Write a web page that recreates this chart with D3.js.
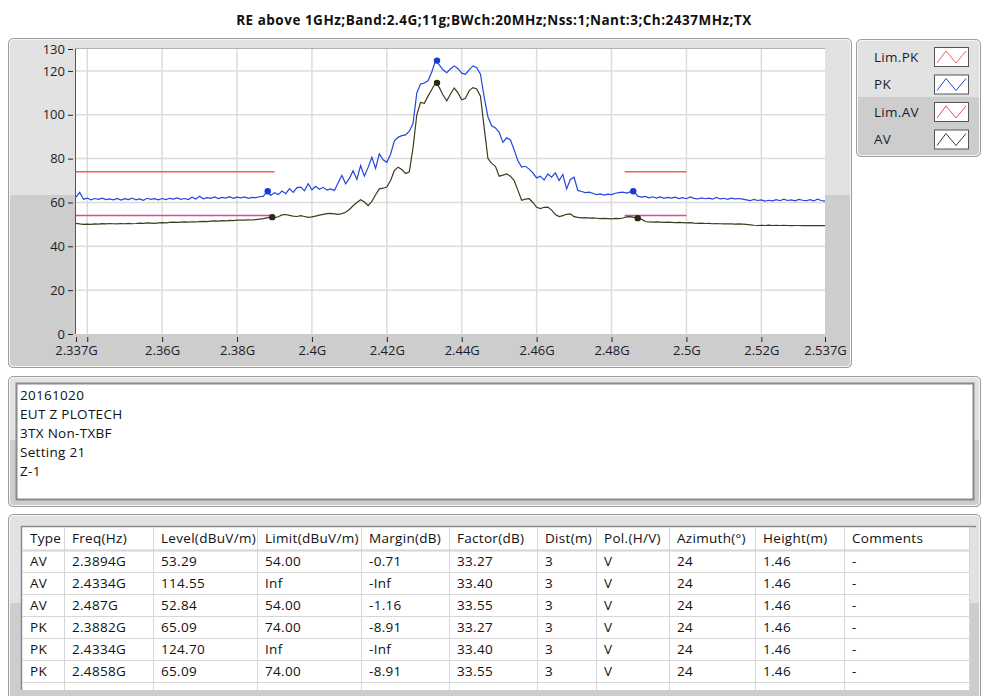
<!DOCTYPE html>
<html>
<head>
<meta charset="utf-8">
<script src="https://cdn.jsdelivr.net/npm/d3@7"></script>
<style>
body { margin: 0; background: #fff; }
svg { display: block; font-family: "Open Sans", sans-serif; }
</style>
</head>
<body>
<svg id="chart" width="981" height="696"></svg>
<script>
// ---- data ----
var title = "RE above 1GHz;Band:2.4G;11g;BWch:20MHz;Nss:1;Nant:3;Ch:2437MHz;TX";
var freqStart = 2.337, freqStep = 0.001;   // GHz, one value per step

var pk = [
  62.4, 64.6, 61.5, 62.0, 61.2, 61.8, 61.4, 62.0, 61.3, 61.6,
  61.2, 61.8, 61.1, 61.7, 61.3, 62.0, 61.2, 61.6, 61.0, 61.9,
  61.4, 61.7, 61.2, 61.8, 61.3, 61.9, 61.5, 62.1, 61.4, 61.8,
  61.3, 62.4, 61.6, 62.8, 61.7, 62.2, 61.9, 62.5, 61.8, 62.3,
  62.0, 62.6, 61.9, 62.4, 62.1, 62.5, 61.9, 62.3, 62.2, 62.6,
  62.8, 65.0, 63.2, 64.5, 63.6, 65.2, 64.0, 66.3, 64.6, 66.8,
  67.0, 65.3, 68.6, 65.8, 67.4, 66.0, 66.9, 65.6, 66.2, 65.5,
  69.0, 72.3, 68.5, 71.0, 74.5, 70.5, 76.8, 72.0, 76.0, 80.6,
  75.5, 82.2, 79.5, 78.3, 82.0, 88.0, 89.7, 90.5, 90.8, 92.5,
  96.0, 110.0, 114.0, 114.5, 115.5, 119.5, 124.7, 122.8, 120.5, 119.2,
  121.0, 122.3, 121.0, 119.0, 118.5, 120.5, 122.3, 121.5, 118.5, 108.0,
  99.0, 95.0, 94.0, 92.0, 87.4, 89.5, 88.5, 84.0, 79.0, 76.1,
  76.5, 75.2, 73.5, 71.2, 72.0, 70.2, 73.0, 71.5, 73.5, 70.0,
  72.8, 66.2, 70.5, 71.5, 65.5, 65.0, 64.5, 64.7, 64.2, 63.6,
  63.9, 63.4, 63.8, 63.6, 64.2, 64.5, 64.7, 64.3, 64.8, 65.1,
  62.9, 62.4, 62.8, 62.1, 62.6, 62.0, 62.5, 61.9, 62.3, 62.0,
  62.4, 61.8, 62.2, 61.7, 62.5, 61.9, 61.6, 62.1, 61.7, 62.0,
  61.5, 62.3, 61.6, 61.9, 61.4, 62.0, 61.6, 61.8, 61.5, 61.2,
  60.8, 61.4, 60.9, 61.2, 60.6, 61.0, 60.7, 61.3, 60.8, 61.5,
  60.9, 61.2, 60.7, 61.4, 61.0, 60.8, 61.3, 60.7, 61.5, 60.9,
  60.6
];

var av = [
  50.5, 50.2, 50.0, 50.1, 50.0, 50.2, 50.1, 50.3, 50.2, 50.4,
  50.3, 50.2, 50.4, 50.3, 50.5, 50.3, 50.4, 50.6, 50.5, 50.7,
  50.6, 50.5, 50.7, 50.8, 50.7, 50.9, 51.0, 50.9, 51.0, 51.1,
  51.0, 51.2, 51.1, 51.3, 51.4, 51.3, 51.5, 51.6, 51.5, 51.7,
  51.6, 51.8, 51.7, 51.9, 52.0, 51.9, 52.1, 52.0, 52.2, 52.4,
  52.6, 53.0, 53.3, 53.1, 53.5, 54.3, 54.5, 54.1, 53.8, 53.6,
  54.0, 53.6, 53.2, 53.4, 53.8, 54.2, 54.6, 54.9, 55.0, 54.8,
  54.6, 54.9, 55.5, 56.8, 58.5, 60.0, 61.2, 60.2, 58.6, 60.5,
  63.5, 66.2, 66.5, 67.0, 70.0, 74.5, 76.1, 75.0, 73.2, 74.0,
  85.0, 100.0, 105.6, 105.2, 108.5, 111.5, 114.5, 112.5, 109.0, 106.4,
  109.5, 112.2, 110.0, 106.8, 107.5, 111.0, 112.4, 111.8, 108.5, 94.0,
  80.0, 77.8, 76.5, 72.0, 72.5, 73.0, 72.0, 70.0, 65.5, 61.0,
  61.5, 61.7, 60.0, 57.8, 57.2, 57.8, 57.9, 56.5, 54.5, 53.6,
  54.0, 54.6, 54.8, 53.5, 53.2, 53.0, 53.1, 52.9, 53.0, 52.8,
  52.6, 52.7, 52.6, 52.5, 52.7, 52.6, 52.9, 53.4, 53.5, 53.2,
  52.8, 52.4, 51.3, 51.1, 51.0, 51.1, 51.0, 50.9, 51.0, 50.9,
  50.8, 50.9, 50.8, 50.7, 50.8, 50.6, 50.5, 50.6, 50.4, 50.5,
  50.3, 50.4, 50.3, 50.2, 50.3, 50.2, 50.1, 50.2, 50.1, 50.0,
  49.8, 49.6, 49.5, 49.6, 49.5, 49.7, 49.5, 49.6, 49.5, 49.6,
  49.5, 49.4, 49.5, 49.5, 49.4, 49.5, 49.4, 49.5, 49.4, 49.5,
  49.4
];

var limBands = [[2.337, 2.39], [2.4835, 2.5]];
var limPK = 74, limAV = 54;

var xTicks = [2.337, 2.34, 2.36, 2.38, 2.4, 2.42, 2.44, 2.46, 2.48, 2.5, 2.52, 2.537];
var xTickLabels = ["2.337G", "", "2.36G", "2.38G", "2.4G", "2.42G", "2.44G", "2.46G", "2.48G", "2.5G", "2.52G", "2.537G"];
var yTicks = [0, 20, 40, 60, 80, 100, 120, 130];

var legendNames = ["Lim.PK", "PK", "Lim.AV", "AV"];
var notes = ["20161020", "EUT Z PLOTECH", "3TX Non-TXBF", "Setting 21", "Z-1"];

var tableHead = ["Type", "Freq(Hz)", "Level(dBuV/m)", "Limit(dBuV/m)", "Margin(dB)", "Factor(dB)", "Dist(m)", "Pol.(H/V)", "Azimuth(\u00b0)", "Height(m)", "Comments"];
var tableRows = [
  ["AV", "2.3894G", "53.29", "54.00", "-0.71", "33.27", "3", "V", "24", "1.46", "-"],
  ["AV", "2.4334G", "114.55", "Inf", "-Inf", "33.40", "3", "V", "24", "1.46", "-"],
  ["AV", "2.487G", "52.84", "54.00", "-1.16", "33.55", "3", "V", "24", "1.46", "-"],
  ["PK", "2.3882G", "65.09", "74.00", "-8.91", "33.27", "3", "V", "24", "1.46", "-"],
  ["PK", "2.4334G", "124.70", "Inf", "-Inf", "33.40", "3", "V", "24", "1.46", "-"],
  ["PK", "2.4858G", "65.09", "74.00", "-8.91", "33.55", "3", "V", "24", "1.46", "-"]
];

// ---- styles ----
var colors = { "Lim.PK": "#fa5a5a", "PK": "#2346dc", "Lim.AV": "#d94a94", "AV": "#3d3d1e" };
var light = "#e2e2e2", dark = "#cdcdcd";

var svg = d3.select("#chart");

// two tone rounded panel
function panel(x, y, w, h, split, id) {
  svg.append("clipPath").attr("id", id)
    .append("rect").attr("x", x).attr("y", y).attr("width", w).attr("height", h).attr("rx", 5);
  var g = svg.append("g").attr("clip-path", "url(#" + id + ")");
  g.append("rect").attr("x", x).attr("y", y).attr("width", w).attr("height", h).attr("fill", light);
  g.append("rect").attr("x", x).attr("y", split).attr("width", w).attr("height", y + h - split).attr("fill", dark);
  svg.append("rect").attr("x", x + 0.5).attr("y", y + 0.5).attr("width", w - 1).attr("height", h - 1)
    .attr("rx", 5).attr("fill", "none").attr("stroke", "#9c9c9c");
  svg.append("rect").attr("x", x + 1.5).attr("y", y + 1.5).attr("width", w - 3).attr("height", h - 3)
    .attr("rx", 4).attr("fill", "none").attr("stroke", "#f6f6f6");
}

// title
svg.append("text").attr("x", 494).attr("y", 25).attr("text-anchor", "middle")
  .style("font-size", "13.5px").style("font-weight", "bold").style("letter-spacing", "0.5px")
  .attr("fill", "#111").text(title);

// ---- graph ----
panel(8, 38, 844, 330, 195, "c1");

var x = d3.scaleLinear().domain([2.337, 2.537]).range([76, 825]);
var y = d3.scaleLinear().domain([0, 130]).range([334, 49]);

svg.append("rect").attr("x", 75).attr("y", 48).attr("width", 750).attr("height", 286).attr("fill", "#fff");

var grid = svg.append("g");
grid.selectAll(".vg").data(xTicks.slice(1, -1)).enter().append("line")
  .attr("x1", d => x(d)).attr("x2", d => x(d)).attr("y1", 49).attr("y2", 334)
  .attr("stroke", "#dcdcdc").attr("stroke-width", 1.5);
grid.selectAll(".hg").data(yTicks.slice(1, -1)).enter().append("line")
  .attr("x1", 76).attr("x2", 825).attr("y1", d => y(d)).attr("y2", d => y(d))
  .attr("stroke", "#dcdcdc").attr("stroke-width", 1.5);

svg.append("line").attr("x1", 75.5).attr("x2", 75.5).attr("y1", 48).attr("y2", 334).attr("stroke", "#555");
svg.append("line").attr("x1", 75).attr("x2", 825).attr("y1", 48.5).attr("y2", 48.5).attr("stroke", "#b0b0b0");

var yAxis = svg.append("g").attr("transform", "translate(73,0)")
  .call(d3.axisLeft(y).tickValues(yTicks).tickSize(5).tickPadding(3).tickFormat(d3.format("d")));
var xAxis = svg.append("g").attr("transform", "translate(0,337)")
  .call(d3.axisBottom(x).tickValues(xTicks).tickSize(5).tickPadding(4).tickFormat((d, i) => xTickLabels[i]));
[yAxis, xAxis].forEach(function (a) {
  a.select(".domain").remove();
  a.selectAll("line").attr("stroke", "#222");
  a.selectAll("text").attr("fill", "#1c1c2a").style("font-size", "13px").style("font-family", "Open Sans, sans-serif");
});

// limits
var limG = svg.append("g");
limBands.forEach(function (b) {
  limG.append("line").attr("x1", x(b[0])).attr("x2", x(b[1])).attr("y1", y(limPK)).attr("y2", y(limPK))
    .attr("stroke", colors["Lim.PK"]).attr("stroke-width", 1.5);
  limG.append("line").attr("x1", x(b[0])).attr("x2", x(b[1])).attr("y1", y(limAV)).attr("y2", y(limAV))
    .attr("stroke", colors["Lim.AV"]).attr("stroke-width", 1.5);
});

var line = d3.line().x((d, i) => x(freqStart + i * freqStep)).y(d => y(d));
svg.append("path").datum(pk).attr("d", line).attr("fill", "none").attr("stroke", colors["PK"]).attr("stroke-width", 1.2);
svg.append("path").datum(av).attr("d", line).attr("fill", "none").attr("stroke", colors["AV"]).attr("stroke-width", 1.2);

// markers from the table
svg.selectAll(".mk").data(tableRows).enter().append("circle")
  .attr("cx", d => x(parseFloat(d[1]))).attr("cy", d => y(+d[2])).attr("r", 3.2)
  .attr("fill", d => d[0] == "PK" ? "#1a3ad6" : "#2a2a10");

// ---- legend ----
panel(856, 39, 125, 118, 97, "c2");
var lg = svg.selectAll(".lg").data(legendNames).enter().append("g")
  .attr("transform", (d, i) => "translate(0," + (57 + i * 27.5) + ")");
lg.append("text").attr("x", 874).attr("y", 4.5).style("font-size", "13.5px").style("letter-spacing", "0.3px")
  .attr("fill", "#1c1c2a").text(d => d);
lg.append("rect").attr("x", 934.5).attr("y", -9.5).attr("width", 34).attr("height", 19)
  .attr("fill", "#fff").attr("stroke", "#555");
lg.append("path").attr("d", "M937,6 L946,-6 L956,6 L966,-6")
  .attr("fill", "none").attr("stroke", d => colors[d]).attr("stroke-width", 1);

// ---- notes ----
panel(8, 376, 973, 131, 440, "c3");
svg.append("rect").attr("x", 16.5).attr("y", 383.5).attr("width", 957).attr("height", 116)
  .attr("fill", "#fff").attr("stroke", "#8a8a8a").attr("stroke-width", 2);
svg.selectAll(".note").data(notes).enter().append("text")
  .attr("x", 20).attr("y", (d, i) => 400 + i * 19).style("font-size", "13.5px").style("letter-spacing", "0.3px")
  .attr("fill", "#111").text(d => d);

// ---- table ----
panel(8, 514, 973, 190, 603, "c4");
var colX = [22, 64, 153, 257, 361, 449, 537, 596, 669, 755, 844, 969];
var rowY = [527, 550, 572, 594, 616, 638, 660, 682, 690];
svg.append("rect").attr("x", 22).attr("y", 527).attr("width", 947).attr("height", 163).attr("fill", "#fff");
svg.append("line").attr("x1", 21.5).attr("x2", 21.5).attr("y1", 526).attr("y2", 690).attr("stroke", "#8a8a8a").attr("stroke-width", 1.5);
svg.append("line").attr("x1", 21).attr("x2", 976).attr("y1", 526.5).attr("y2", 526.5).attr("stroke", "#8a8a8a").attr("stroke-width", 1.5);
svg.selectAll(".vc").data(colX.slice(1)).enter().append("line")
  .attr("x1", d => d + 0.5).attr("x2", d => d + 0.5).attr("y1", 527).attr("y2", 690)
  .attr("stroke", "#d6d6d6");
svg.selectAll(".hr").data(rowY.slice(1, -1)).enter().append("line")
  .attr("x1", 22).attr("x2", 969).attr("y1", d => d + 0.5).attr("y2", d => d + 0.5)
  .attr("stroke", "#d6d6d6").attr("stroke-width", d => d == 550 ? 2 : 1);

var allRows = [tableHead].concat(tableRows);
allRows.forEach(function (r, ri) {
  svg.selectAll(".cell" + ri).data(r).enter().append("text")
    .attr("x", (d, ci) => colX[ci] + 8).attr("y", rowY[ri] + 16)
    .style("font-size", "13.5px").style("letter-spacing", "0.3px")
    .attr("fill", "#111").text(d => d);
});
</script>
</body>
</html>
